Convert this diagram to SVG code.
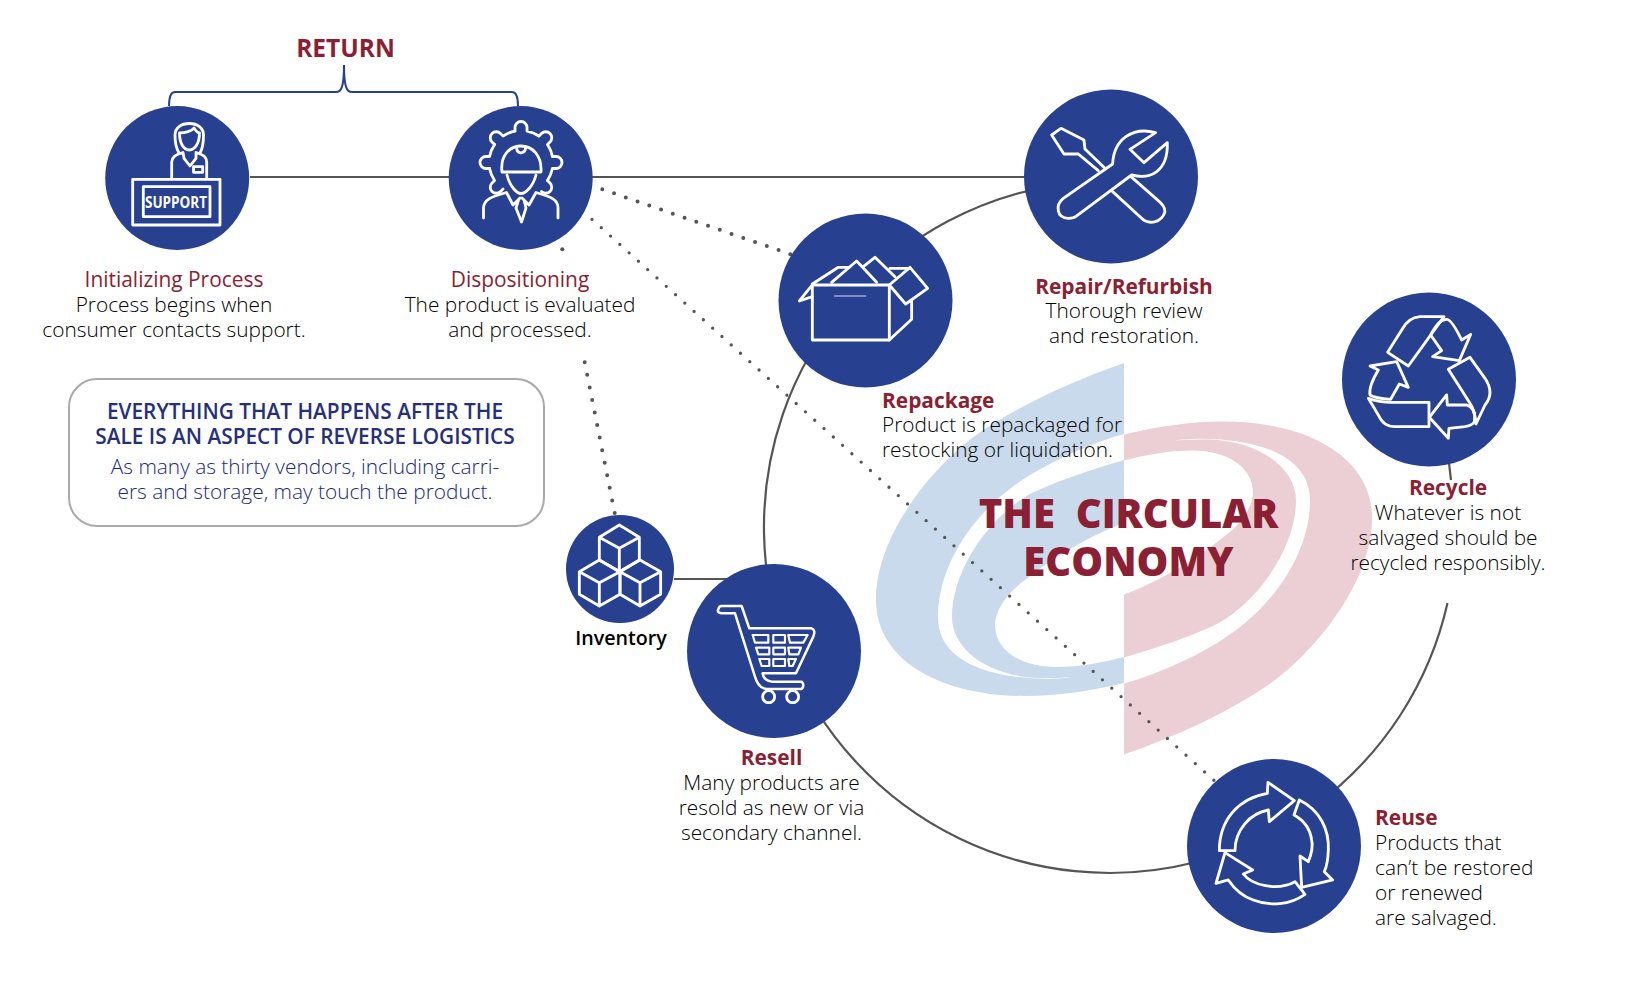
<svg xmlns="http://www.w3.org/2000/svg" width="1650" height="1000" viewBox="0 0 1650 1000">
<style>
text{font-family:"Open Sans","Liberation Sans",sans-serif}
.c{text-anchor:middle}
.b{font-size:20.850px;font-weight:300;fill:#000}
.h{font-size:20.900px;font-weight:700;fill:#8b1f33}
.r{font-size:20.900px;font-weight:400;fill:#8b1f33}
.node{fill:#274190}
.ic{fill:none;stroke:#fff;stroke-width:8.5;stroke-linejoin:round;stroke-linecap:round}
.it{fill:none;stroke:#fff;stroke-width:2.800;stroke-linejoin:round;stroke-linecap:round}
.line{fill:none;stroke:#555;stroke-width:2.200}
.dot{fill:none;stroke:#555;stroke-linecap:round;stroke-width:4}
.big{font-size:40px;font-weight:800;fill:#8b1f33}
.ch{font-size:20.800px;font-weight:600;fill:#272f7c}
.cb{font-size:20.850px;font-weight:300;fill:#1a2a80}
</style>
<defs>
<path id="swoosh" d="M1124,363C1070,382 1020,405 979,433C940,460 876,530 876,600C876,660 940,696 1025,696C1060,696 1095,690 1124,683L1124,657C1105,662 1080,667 1056,667C1020,667 995,650 995,625C995,610 1008,592 1025,580C1050,560 1090,535 1124,523L1124,460C1090,470 1060,480 1032,493C990,515 952,570 952,617C952,650 990,677 1040,678C1050,678 1062,678 1073.5,677C1040,682 938,680 938,617C938,560 980,505 1030,475C1060,457 1095,442 1124,434Z"/>
<path id="tooth" class="it" d="M-6,-31.4V-35A6,6 0 0 1 6,-35V-31.4A32,32 0 0 1 17.98,-26.47"/>
<path id="toothEnd" class="it" d="M-6,-31.4V-35A6,6 0 0 1 6,-35"/>
</defs>

<g id="logo">
<use href="#swoosh" fill="#c9daec"/>
<use href="#swoosh" fill="#ebcfd4" transform="rotate(180 1124 558.7)"/>
</g>

<g id="connectors">
<path class="line" d="M250,177H1024"/>
<path class="line" d="M1062,184.300A346,346 0 1 0 1447.500,603"/>
<path class="line" d="M1449,463L1451,480"/>
<path class="line" d="M674,579H730"/>
<path d="M169,106C169,98 170,92 175,92H336C341,92 344,88 344,65C344,88 347,92 352,92H512C517,92 518,98 518,106" fill="none" stroke="#274190" stroke-width="2"/>
<path class="dot" stroke-dasharray="0 12.430" d="M602.300,189.300L795,255.800"/>
<path class="dot" style="stroke-width:3.300" stroke-dasharray="0 12.500" d="M592,219.300L1218,784"/>
<path class="dot" stroke-dasharray="0 12.800" d="M584.700,362.300L614.700,513"/>
<path class="dot" stroke-dasharray="0 12" d="M562.300,249.300v.01"/>
</g>

<g id="node-support">
<circle class="node" cx="177.200" cy="178" r="72"/>
<path class="it" d="M132.700,179.300H220V225H132.700ZM143.300,186.700H210V216.700H143.300Z"/>
<path class="it" d="M179,153C176,148 175,142 175,135C175,128 181,123.500 189.300,123.500C197.500,123.500 203.500,128 203.500,135C203.500,142 203,148 200,153"/>
<path class="it" d="M179.500,133C185,133 192,131 194,128C196,131 198,133 199.500,133C199.500,143 195,150 189.300,150C183.500,150 179.500,143 179.500,133Z"/>
<path class="it" d="M171.700,178V162C172,157 175,155 183,152.500L184,158.300L190,166L196,158.300L196,152.500C204,155 206.500,157 206.700,162V178"/>
<path class="it" d="M193.500,166.700H202.700V172.300H193.500Z"/>
<text x="176" y="207.500" class="c" textLength="62" lengthAdjust="spacingAndGlyphs" style="font-size:16px;font-weight:700;fill:#fff">SUPPORT</text>
</g>

<g id="node-dispositioning">
<circle class="node" cx="520.700" cy="178" r="72"/>
<g transform="translate(521,162.500)">
<use href="#tooth" transform="rotate(-135)"/>
<use href="#tooth" transform="rotate(-90)"/>
<use href="#tooth" transform="rotate(-45)"/>
<use href="#tooth"/>
<use href="#tooth" transform="rotate(45)"/>
<use href="#tooth" transform="rotate(90)"/>
<use href="#toothEnd" transform="rotate(135)"/>
</g>
<path class="it" d="M502,172C500,155 510,146 521,146C532,146 542,155 541,172ZM517,147Q516,152 521,153Q526,152 525.500,147"/>
<path class="it" d="M507,175C510,187 517,193.500 521,193.500C525,193.500 533,187 536,175"/>
<path class="it" d="M483.500,218V208C484,200 490,197 506.500,192.500L513,205L520,198M558,218V208C558,200 552,197 536,192.500L529,205L522,198M518.500,200L516,208L521.500,222L526,208L524,200"/>
</g>

<g id="node-repair">
<circle class="node" cx="1111" cy="176.500" r="87"/>
<g transform="translate(760,80) scale(.3333)">
<path class="ic" d="M1035,265L975,207L972,180L903,145L875,165L912,222L955,222L1015,272M1058,335L1145,415C1165,435 1205,430 1215,395C1215,380 1205,370 1195,362L1113,290"/>
<path class="ic" d="M1187,158C1120,140 1062,175 1058,252L910,355C885,375 890,415 925,415C935,415 945,412 950,408L1115,285C1170,300 1225,275 1222,188L1152,248L1110,208Z"/>
</g>
</g>

<g id="node-repackage">
<circle class="node" cx="865.500" cy="300.500" r="87"/>
<g transform="translate(760,80) scale(.3333)">
<path class="ic" d="M157,615H388V780H157Z"/>
<path class="ic" d="M388,780L455,718V660M388,615L450,562L503,625L437,672Z"/>
<path class="ic" d="M157,612L235,562H268M215,607L290,543L350,607M310,560L345,532L405,590M390,565H450M157,615L118,663L157,650"/>
<path d="M222,648H318" stroke="#a9a3d0" stroke-width="5" fill="none"/>
</g>
</g>

<g id="node-recycle">
<circle class="node" cx="1429" cy="379.500" r="87"/>
<g transform="translate(1320,280) scale(.3333)">
<path class="ic" d="M203,217L265,258L372,110H300Q265,112 245,150Z"/>
<path class="ic" d="M332,165Q355,118 380,118Q395,118 425,180L452,163L418,242L338,230L365,212Z"/>
<path class="ic" d="M385,268L450,232L495,295Q525,340 495,375L468,432Q465,390 450,370Z"/>
<path class="ic" d="M463,425Q470,385 440,375L382,375L380,345L328,412L385,475L387,445L435,440Q460,435 463,425Z"/>
<path class="ic" d="M145,355Q180,368 220,367H327V440H225Q190,440 175,405Z"/>
<path class="ic" d="M150,258L230,245L265,322L238,312L212,358Q165,355 150,345Q145,320 175,270Z"/>
</g>
</g>

<g id="node-inventory">
<circle class="node" cx="620" cy="569" r="54"/>
<g transform="translate(540,500) scale(.3333)">
<path class="ic" d="M238,75L298,112V180L238,215L178,180V112ZM178,112L238,145L298,112M238,145V215"/>
<path class="ic" d="M178,180L240,215V283L178,318L118,283V215ZM118,215L178,248L240,215M178,248V318"/>
<path class="ic" d="M300,180L362,215V283L300,318L240,283V215ZM240,215L300,248L362,215M300,248V318"/>
</g>
</g>

<g id="node-resell">
<circle class="node" cx="774" cy="651" r="87"/>
<g transform="translate(540,500) scale(.3333)">
<path class="ic" style="stroke-width:7.500" d="M535,328Q537,318 545,318H605L628,385H815Q828,390 820,410L768,520H668Q670,540 695,545H785Q795,555 785,567H680Q655,565 645,530L585,340H545Q530,338 535,328Z"/>
<path class="ic" style="stroke-width:6.500" d="M638,405H685V428H645ZM700,405H735V428H700ZM745,405H803L790,428H750ZM648,443H688V463H655ZM700,443H735V463H700ZM745,443H783L775,463H748ZM658,477H688V498H665ZM700,477H735V498H700ZM745,477H768L758,498H748Z"/>
<circle class="ic" cx="686" cy="590" r="18"/>
<circle class="ic" cx="758" cy="590" r="18"/>
</g>
</g>

<g id="node-reuse">
<circle class="node" cx="1274" cy="846" r="87"/>
<g transform="translate(1180,750) scale(.3333)">
<path class="ic" d="M118,302C118,210 175,145 262,130L264,97L343,152L268,215L265,180C210,190 165,240 165,302Z"/>
<path class="ic" d="M358,150C420,180 448,240 445,300C444,330 440,350 433,365L458,390L365,412L360,318L385,335C395,310 400,290 395,270C390,235 370,210 342,195Z"/>
<path class="ic" d="M375,433C330,465 270,470 220,450C190,440 165,420 145,390L108,400L135,308L218,360L190,372C215,405 290,425 345,395Z"/>
</g>
</g>

<g id="labels">
<text x="345.500" y="56.500" class="c" style="font-size:24.500px;font-weight:700;fill:#8b1f33">RETURN</text>
<text x="174" y="286.500" class="c r">Initializing Process</text>
<text x="174" y="311.500" class="c b">Process begins when</text>
<text x="174" y="336.500" class="c b">consumer contacts support.</text>
<text x="520" y="286.500" class="c r">Dispositioning</text>
<text x="520" y="311.500" class="c b">The product is evaluated</text>
<text x="520" y="336.500" class="c b">and processed.</text>
<text x="1124" y="294" class="c h">Repair/Refurbish</text>
<text x="1124" y="318" class="c b">Thorough review</text>
<text x="1124" y="343" class="c b">and restoration.</text>
<text x="882" y="407.500" class="h">Repackage</text>
<text x="882" y="432" class="b">Product is repackaged for</text>
<text x="882" y="457" class="b">restocking or liquidation.</text>
<text x="1448" y="495" class="c h">Recycle</text>
<text x="1448" y="520" class="c b">Whatever is not</text>
<text x="1448" y="545" class="c b">salvaged should be</text>
<text x="1448" y="570" class="c b">recycled responsibly.</text>
<text x="1375" y="825" class="h">Reuse</text>
<text x="1375" y="850" class="b">Products that</text>
<text x="1375" y="875" class="b">can’t be restored</text>
<text x="1375" y="900" class="b">or renewed</text>
<text x="1375" y="925" class="b">are salvaged.</text>
<text x="771.500" y="765" class="c h">Resell</text>
<text x="771.500" y="790" class="c b">Many products are</text>
<text x="771.500" y="815" class="c b">resold as new or via</text>
<text x="771.500" y="840" class="c b">secondary channel.</text>
<text x="621" y="645" class="c" style="font-size:19.700px;font-weight:600;fill:#000">Inventory</text>
<text x="1128.500" y="528" class="c big" xml:space="preserve" style="white-space:pre">THE  CIRCULAR</text>
<text x="1128.500" y="576" class="c big">ECONOMY</text>
</g>

<g id="callout">
<rect x="69" y="379" width="475" height="147" rx="28" fill="#fff" stroke="#aaa" stroke-width="2"/>
<text x="305" y="418.500" class="c ch">EVERYTHING THAT HAPPENS AFTER THE</text>
<text x="305" y="443.500" class="c ch">SALE IS AN ASPECT OF REVERSE LOGISTICS</text>
<text x="305" y="474" class="c cb">As many as thirty vendors, including carri-</text>
<text x="305" y="499" class="c cb">ers and storage, may touch the product.</text>
</g>
</svg>
